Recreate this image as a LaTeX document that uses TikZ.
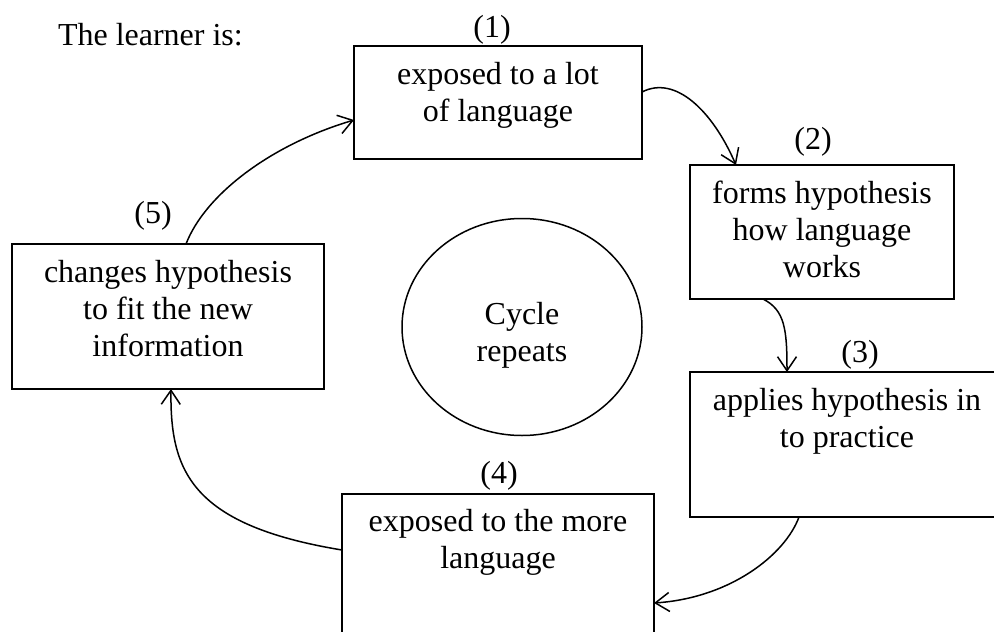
\documentclass[tikz,border=0pt]{standalone}
\usepackage{fontspec}
\setmainfont{Liberation Serif}
\usetikzlibrary{shapes.geometric,arrows.meta,calc}
\tikzset{
  boxnode/.style={draw, line width=1.8pt, rectangle, inner sep=0pt, outer sep=0pt, anchor=north west},
  txt/.style={font=\fontsize{32}{37}\selectfont, align=center, inner sep=0pt, outer sep=0pt},
  numlabel/.style={font=\fontsize{32}{37}\selectfont, inner sep=0pt, anchor=base},
  conn/.style={line width=1.5pt, -{Straight Barb[length=14pt,width=19pt,line width=1.5pt]}}
}
\begin{document}
\begin{tikzpicture}[x=1pt,y=-1pt]
\clip (0,0) rectangle (994,632);
\fill[white] (0,0) rectangle (994,632);

% title
\node[txt, anchor=base west] (title) at (58,45) {The learner is:};

% boxes
\node[boxnode, minimum width=288pt, minimum height=113pt] (b1) at (354,46) {};
\node[boxnode, minimum width=264pt, minimum height=134pt] (b2) at (690,165) {};
\node[boxnode, minimum width=314pt, minimum height=145pt] (b3) at (690,372) {};
\node[boxnode, minimum width=312pt, minimum height=186pt] (b4) at (342,494) {};
\node[boxnode, minimum width=312pt, minimum height=145pt] (b5) at (12,244) {};

% box texts
\node[txt, anchor=north] (t1) at ([yshift=-13pt]b1.north) {\strut exposed to a lot\\\strut of language};
\node[txt, anchor=north] (t2) at ([yshift=-13pt]b2.north) {\strut forms hypothesis\\\strut how language\\\strut works};
\node[txt, anchor=north] (t3) at ([yshift=-13pt]b3.north) {\strut applies hypothesis in\\\strut to practice};
\node[txt, anchor=north] (t4) at ([yshift=-12pt]b4.north) {\strut exposed to the more\\\strut language};
\node[txt, anchor=north] (t5) at ([yshift=-13pt]b5.north) {\strut changes hypothesis\\\strut to fit the new\\\strut information};

% number labels
\node[numlabel] (n1) at (492,37) {(1)};
\node[numlabel] (n2) at (813,149) {(2)};
\node[numlabel] (n3) at (860,362) {(3)};
\node[numlabel] (n4) at (499,483) {(4)};
\node[numlabel] (n5) at (153,223) {(5)};

% central ellipse
\node[draw, ellipse, line width=1.5pt, minimum width=240pt, minimum height=217pt, inner sep=0pt] (cyc) at (522,327) {};
\node[txt, anchor=north] (ctext) at ([yshift=28pt]cyc.center) {\strut Cycle\\\strut repeats};

% connectors
\draw[conn] ([yshift=10.5pt]b1.east) .. controls (675,75) and (712,110) .. ([xshift=-86pt]b2.north);
\draw[conn] ([xshift=-59pt]b2.south) .. controls (785,310) and (787,330) .. ([xshift=-60pt]b3.north);
\draw[conn] ([xshift=-48pt]b3.south) .. controls (785,555) and (730,598) .. ([yshift=-109pt]b4.north east);
\draw[conn] ([yshift=-56pt]b4.north west) .. controls (190,525) and (170,470) .. ([xshift=3pt]b5.south);
\draw[conn] ([xshift=18pt]b5.north) .. controls (205,195) and (270,145) .. ([yshift=-17.5pt]b1.west);
\end{tikzpicture}
\end{document}
